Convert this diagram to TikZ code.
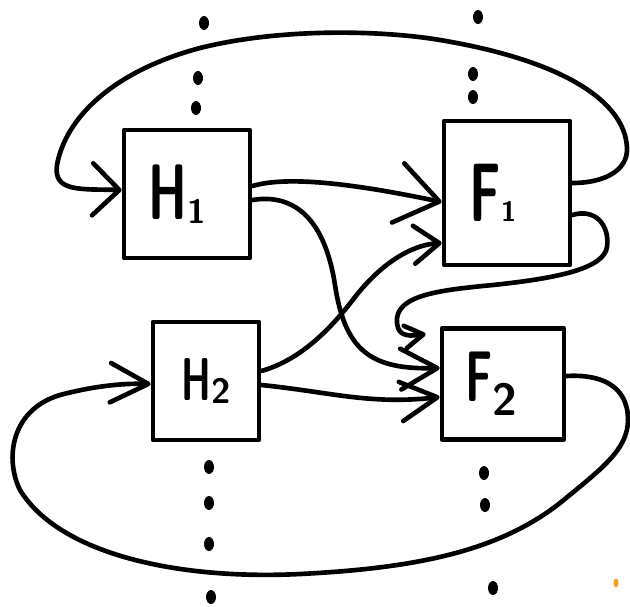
\documentclass[tikz,border=0pt]{standalone}
\usepackage{graphicx}
\usetikzlibrary{arrows.meta,calc}
\definecolor{dotorange}{RGB}{247,160,30}
\newcommand\boxlbl[5]{{\sffamily\bfseries\scalebox{0.62}[1]{\fontsize{#1}{#1}\selectfont #2}\raisebox{-#5}{\fontsize{#3}{#3}\selectfont #4}}}
\tikzset{
  ln/.style={line width=3.3pt, line cap=round, line join=round},
  box/.style={draw, line width=3.3pt, line join=round, inner sep=0pt},
  barb/.style 2 args={-{Straight Barb[length=#1,width=#2,round]}},
  dot/.style={fill=black}
}
\begin{document}
\begin{tikzpicture}[x=0.025cm,y=-0.025cm]
\useasboundingbox (0,0) rectangle (630,606);

% boxes
\node[box, minimum width=3.15cm, minimum height=3.2cm] (H1) at (187,194) {\boxlbl{56pt}{H}{24pt}{1}{3pt}\hspace*{14pt}};
\node[box, minimum width=3.15cm, minimum height=3.6cm] (F1) at (507,193) {\boxlbl{59pt}{F}{20pt}{1}{0pt}\hspace*{20pt}};
\node[box, minimum width=2.65cm, minimum height=2.95cm] (H2) at (206,381) {\boxlbl{43pt}{H}{25pt}{2}{2pt}};
\node[box, minimum width=3.05cm, minimum height=2.78cm] (F2) at (503,384) {\boxlbl{51pt}{F}{32pt}{2}{10pt}\hspace*{16pt}};

% dotted vertical lines
\foreach \x/\y in {204/23,198/78,196/108,478/17,473/74,473/97,209/467,209/503,209/544,211/597,484/473,485/505,493/588}
  \fill[dot] (\x,\y) ellipse [x radius=5, y radius=7];
\fill[dotorange] (616,583) ellipse [x radius=2.5, y radius=4.5];

% top loop F1 -> H1
\draw[ln, barb={19pt}{37pt}] ($(F1.east)+(0,-10)$)
  .. controls (605,183) and (628,170) .. (627,148)
  .. controls (625,100) and (560,60) .. (440,40)
  .. controls (380,30) and (280,28) .. (200,48)
  .. controls (110,72) and (65,120) .. (57,165)
  .. controls (53,192) and (80,189) .. ($(H1.west)+(0,-4)$);

% H1 -> F1
\draw[ln, barb={30pt}{43pt}] ($(H1.east)+(0,-8)$)
  .. controls (290,175) and (360,185) .. ($(F1.west)+(0,9)$);

% H1 -> F2
\draw[ln, barb={26pt}{29pt}] ($(H1.east)+(0,6)$)
  .. controls (295,193) and (325,220) .. (335,285)
  .. controls (345,350) and (370,370) .. ($(F2.west)+(0,-16)$);

% H2 -> F1
\draw[ln, barb={18pt}{27pt}] ($(H2.east)+(0,-10)$)
  .. controls (300,360) and (330,330) .. (355,297)
  .. controls (380,265) and (410,245) .. ($(F1.west)+(0,50)$);

% H2 -> F2
\draw[ln, barb={26pt}{28pt}] ($(H2.east)+(0,4)$)
  .. controls (330,392) and (370,405) .. ($(F2.west)+(0,13)$);

% F1 -> F2 loop
\draw[ln, barb={13pt}{16pt}] ($(F1.east)+(0,22)$)
  .. controls (595,208) and (610,225) .. (607,247)
  .. controls (604,268) and (560,278) .. (493,285)
  .. controls (440,290) and (400,295) .. (397,318)
  .. controls (396,335) and (405,337) .. ($(F2.north west)+(-14,8)$);

% bottom loop F2 -> H2
\draw[ln, barb={27pt}{28pt}] ($(F2.east)+(0,-8)$)
  .. controls (600,374) and (628,385) .. (628,420)
  .. controls (628,450) and (600,470) .. (560,503)
  .. controls (500,550) and (420,568) .. (300,574)
  .. controls (180,580) and (60,555) .. (20,490)
  .. controls (5,460) and (10,410) .. (60,395)
  .. controls (90,387) and (120,383) .. ($(H2.west)+(0,3)$);
\end{tikzpicture}
\end{document}
